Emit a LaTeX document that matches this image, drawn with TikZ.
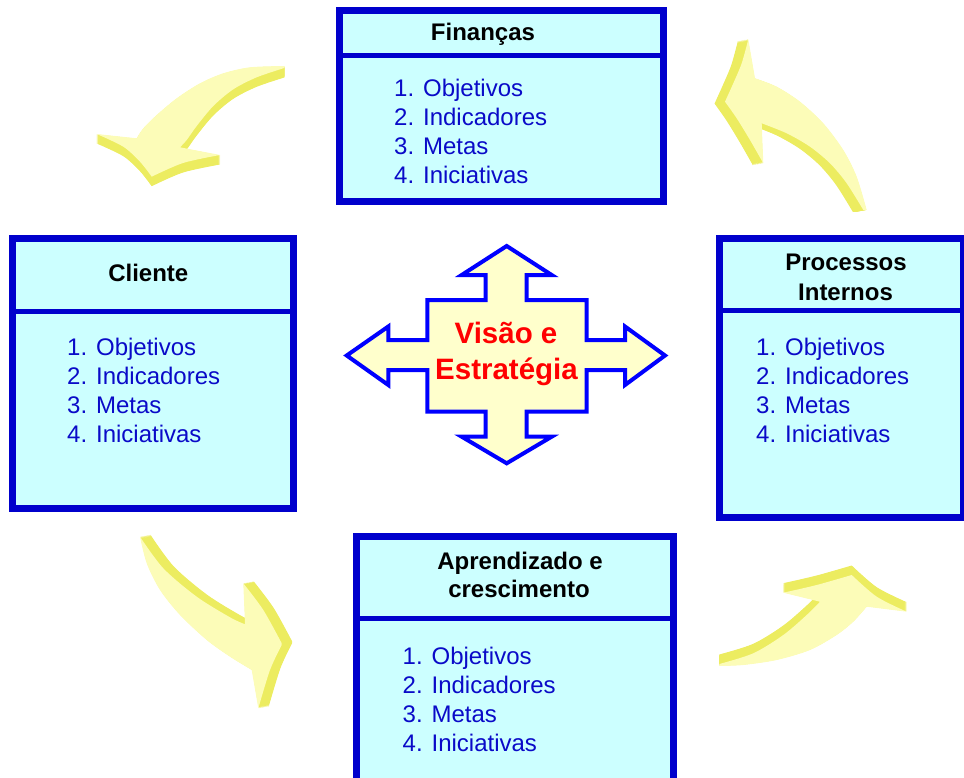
\documentclass[tikz,border=0pt]{standalone}
\usepackage{fontspec}
\setmainfont{Liberation Sans}

\definecolor{boxline}{RGB}{0,0,204}
\definecolor{boxfill}{RGB}{204,255,255}
\definecolor{itemblue}{RGB}{10,10,200}
\definecolor{crossline}{RGB}{0,0,255}
\definecolor{crossfill}{RGB}{255,255,204}
\definecolor{visred}{RGB}{255,0,0}
\definecolor{arrowlight}{RGB}{252,252,184}
\definecolor{arrowdark}{RGB}{236,236,96}

\tikzset{
  panel/.style={draw=boxline, line width=7pt, fill=boxfill, rectangle,
    inner sep=0pt, anchor=north west},
  divider/.style={draw=boxline, line width=5pt},
  title/.style={font=\bfseries\fontsize{24}{29}\selectfont, inner sep=0pt, anchor=base},
  item/.style={font=\fontsize{24}{29}\selectfont, text=itemblue, inner sep=0pt, anchor=base west},
  vision/.style={font=\bfseries\fontsize{29.5}{36}\selectfont, text=visred, inner sep=0pt, anchor=base},
  crossshape/.style={draw=crossline, fill=crossfill, line width=4pt, line join=miter},
  arrowtop/.style={fill=arrowlight},
  arrowside/.style={fill=arrowdark},
  % curved 3D arrows (top faces)
  curveTL/.style={insert path={
    (284.3,66) -- plot[smooth] coordinates {(284.3,66) (250,67.3) (223.3,73.3) (200,83.3) (176.7,98.3) (156.7,115) (143.3,128.3) (136.7,138.3)}
    -- (96.7,134)
    -- plot[smooth] coordinates {(96.7,134) (123.3,146.7) (140,161.7) (151.7,176.7)}
    -- plot[smooth] coordinates {(151.7,176.7) (183,163) (220,155)}
    -- (180,147.3)
    -- plot[smooth] coordinates {(180,147.3) (186.7,140) (196.7,126) (213.3,106) (233.3,89.3) (256.7,77.3) (284.3,68)}
    -- cycle}},
  curveTR/.style={insert path={
    (748.3,39.3) -- (755,78.3)
    -- plot[smooth] coordinates {(755,78.3) (776.7,86.7) (800,101.7) (823.3,123.3) (843.3,150) (856.7,176.7) (866.7,210)}
    -- plot[smooth] coordinates {(863.3,210) (846.7,183.3) (830,163.3) (810,146.7) (786.7,133.3) (761.7,123.3)}
    -- (763.3,163.3)
    -- plot[smooth] coordinates {(763.3,163.3) (750,140) (736.7,118.3) (725,101.7)}
    -- plot[smooth] coordinates {(725,101.7) (733.3,83.3) (741.7,63.3) (748.3,39.3)}
    -- cycle}},
  curveBL/.style={insert path={
    (140,536.7) -- plot[smooth] coordinates {(140,536.7) (163.3,568.3) (196.7,596.7) (230,617.3) (245,624.3)}
    -- (243.3,583.3)
    -- plot[smooth] coordinates {(243.3,583.3) (263.3,610) (281.7,643.3)}
    -- plot[smooth] coordinates {(281.7,645) (270,670) (258.3,708.3)}
    -- (251.7,670)
    -- plot[smooth] coordinates {(251.7,670) (230,656.7) (206.7,640) (180,615) (160,590) (146.7,563.3) (140,536.7)}
    -- cycle}},
  curveBR/.style={insert path={
    (719.3,664) -- plot[smooth] coordinates {(719.3,664) (753.3,653.3) (783.3,635) (806.7,615) (820,601.7)}
    -- (783.3,592.7)
    -- plot[smooth] coordinates {(783.3,592.7) (816.7,585) (851.7,575)}
    -- plot[smooth] coordinates {(851.7,575) (876.7,596.7) (906.7,611.7)}
    -- (866.7,606.7)
    -- plot[smooth] coordinates {(866.7,606.7) (853.3,621.7) (836.7,635) (810,650) (776.7,660) (743.3,665) (719.3,666)}
    -- cycle}},
}

\begin{document}
\begin{tikzpicture}[x=1pt, y=-1pt]
\useasboundingbox (0,0) rectangle (964,778);
\clip (0,0) rectangle (964,778);

% curved arrows: extruded sides, then top faces
\foreach \t in {0.05,0.1,...,1.0} {
  \fill[arrowside, shift={(0,{10*\t})}, curveTL];
  \fill[arrowside, shift={({-11*\t},{2*\t})}, curveTR];
  \fill[arrowside, shift={({11*\t},{-2*\t})}, curveBL];
  \fill[arrowside, shift={(0,{-10*\t})}, curveBR];
}
\fill[arrowtop, curveTL];
\fill[arrowtop, curveTR];
\fill[arrowtop, curveBL];
\fill[arrowtop, curveBR];

% Finanças
\node[panel, minimum width=324pt, minimum height=191pt] (fin) at (336,7) {};
\draw[divider] (fin.north west) ++(0,49) -- ++(331,0);
\node[title] (fin-title) at (483,40.7) {Finanças};
\foreach \txt [count=\k] in {Objetivos,Indicadores,Metas,Iniciativas}
  \node[item] (fin-\k) at (394,{96.7+29*(\k-1)}) {\k. \txt};

% Cliente
\node[panel, minimum width=281pt, minimum height=270pt] (cli) at (9,235) {};
\draw[divider] (cli.north west) ++(0,76) -- ++(288,0);
\node[title] (cli-title) at (148.3,281) {Cliente};
\foreach \txt [count=\k] in {Objetivos,Indicadores,Metas,Iniciativas}
  \node[item] (cli-\k) at (67,{355+29*(\k-1)}) {\k. \txt};

% Processos Internos
\node[panel, minimum width=244pt, minimum height=279pt] (pro) at (716,235) {};
\draw[divider] (pro.north west) ++(0,75.3) -- ++(260,0);
\node[title] (pro-title1) at (846,270.7) {Processos};
\node[title] (pro-title2) at (845.5,300) {Internos};
\foreach \txt [count=\k] in {Objetivos,Indicadores,Metas,Iniciativas}
  \node[item] (pro-\k) at (756,{355+29*(\k-1)}) {\k. \txt};

% Aprendizado e crescimento
\node[panel, minimum width=317pt, minimum height=250pt] (apr) at (353,533) {};
\draw[divider] (apr.north west) ++(0,85.3) -- ++(324,0);
\node[title] (apr-title1) at (520,569.3) {Aprendizado e};
\node[title] (apr-title2) at (519,597.3) {crescimento};
\foreach \txt [count=\k] in {Objetivos,Indicadores,Metas,Iniciativas}
  \node[item] (apr-\k) at (402.5,{664+29*(\k-1)}) {\k. \txt};

% central four-way arrow
\filldraw[crossshape]
  (506.7,246) -- (551.7,275) -- (526.7,275) -- (526.7,300) -- (586.7,300)
  -- (586.7,340) -- (625,340) -- (625,326.5) -- (665,355.5) -- (625,385)
  -- (625,370) -- (586.7,370) -- (586.7,411.7) -- (526.7,411.7) -- (526.7,436.7)
  -- (551.7,436.7) -- (506.7,463.3) -- (461.7,436.7) -- (485.7,436.7) -- (485.7,411.7)
  -- (427.3,411.7) -- (427.3,370) -- (388.3,370) -- (388.3,385) -- (346.7,355.5)
  -- (388.3,326.5) -- (388.3,340) -- (427.3,340) -- (427.3,300) -- (485.7,300)
  -- (485.7,275) -- (461.7,275) -- cycle;
\node[vision] (vis1) at (506,343.3) {Visão e};
\node[vision] (vis2) at (506.5,379.3) {Estratégia};
\end{tikzpicture}
\end{document}
